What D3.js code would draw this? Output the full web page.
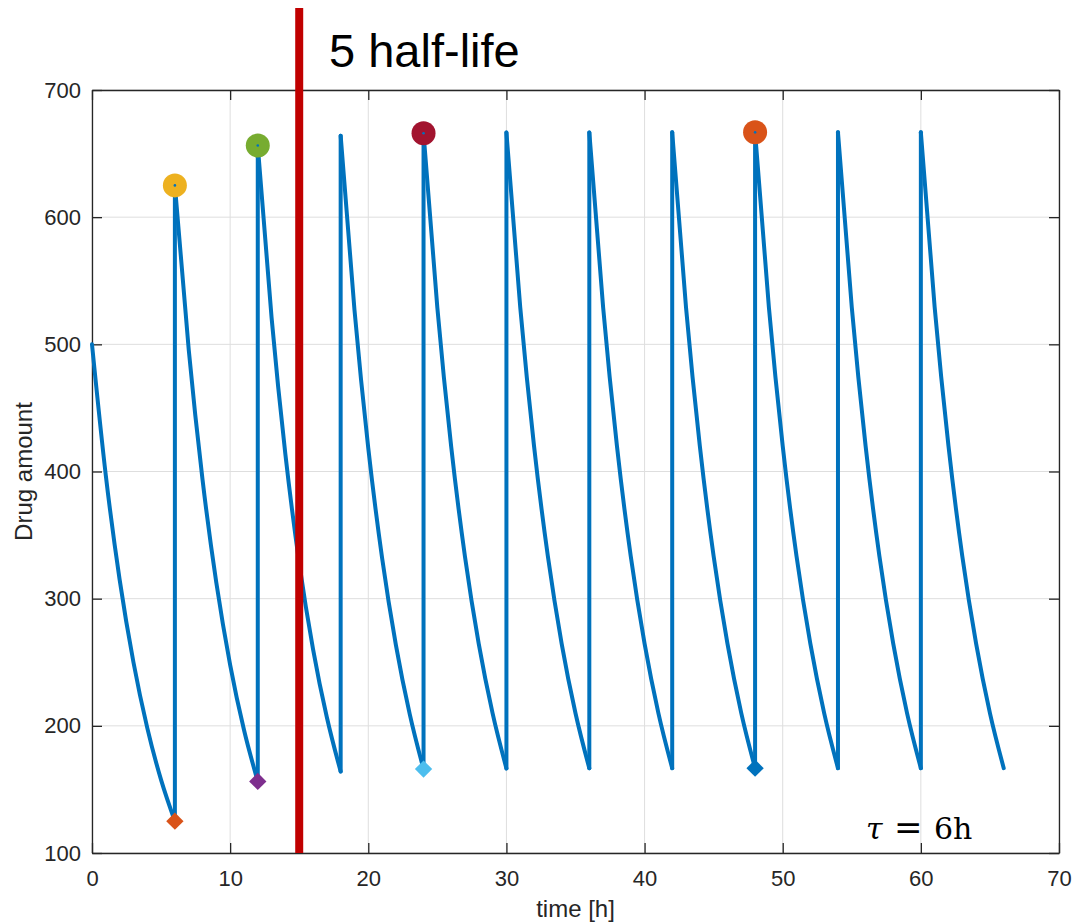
<!DOCTYPE html>
<html>
<head>
<meta charset="utf-8">
<script src="https://cdn.jsdelivr.net/npm/d3@7"></script>
<style>
  html, body { margin: 0; padding: 0; background: #ffffff; }
  svg { display: block; }
</style>
</head>
<body>
<script>
// Repeated dosing: drug amount every hour within each 6 h dosing interval
const doseTimes = [0, 6, 12, 18, 24, 30, 36, 42, 48, 54, 60];
const hourOffsets = [0, 1, 2, 3, 4, 5, 6];
const amountByInterval = [
  [500.0, 396.9, 315.0, 250.0, 198.4, 157.5, 125.0],
  [625.0, 496.1, 393.7, 312.5, 248.0, 196.9, 156.3],
  [656.3, 520.9, 413.4, 328.1, 260.4, 206.7, 164.1],
  [664.1, 527.1, 418.3, 332.0, 263.5, 209.2, 166.0],
  [666.0, 528.6, 419.6, 333.0, 264.3, 209.8, 166.5],
  [666.5, 529.0, 419.9, 333.3, 264.5, 209.9, 166.6],
  [666.6, 529.1, 420.0, 333.3, 264.6, 210.0, 166.7],
  [666.7, 529.1, 420.0, 333.3, 264.6, 210.0, 166.7],
  [666.7, 529.1, 420.0, 333.3, 264.6, 210.0, 166.7],
  [666.7, 529.1, 420.0, 333.3, 264.6, 210.0, 166.7],
  [666.7, 529.1, 420.0, 333.3, 264.6, 210.0, 166.7]
];

// Highlighted doses: peak right after dosing and trough right before it
const markTimes = [6, 12, 24, 48];
const peakValues = [625.0, 656.3, 666.0, 666.7];
const troughValues = [125.0, 156.3, 166.0, 166.7];

const halfLife = 3;          // h
const halfLivesShown = 5;    // vertical marker at 5 half-lives
const tau = 6;               // dosing interval, h

const xTicks = [0, 10, 20, 30, 40, 50, 60, 70];
const yTicks = [100, 200, 300, 400, 500, 600, 700];

// ---- styles ----
const peakColors = ["#EDB120", "#77AC30", "#A2142F", "#D95319"];
const troughColors = ["#D95319", "#7E2F8E", "#4DBEEE", "#0072BD"];
const lineColor = "#0072BD";
const axisColor = "#262626";
const gridColor = "#dedede";
const sans = "'Liberation Sans', Arial, Helvetica, sans-serif";

const W = 1073, H = 923;
const m = { left: 92, top: 90, right: 1059, bottom: 853 };

const svg = d3.select("body").append("svg")
  .attr("width", W).attr("height", H);

const x = d3.scaleLinear().domain([0, 70]).range([m.left, m.right]);
const y = d3.scaleLinear().domain([100, 700]).range([m.bottom, m.top]);

// grid
const grid = svg.append("g");
grid.selectAll("line.gx").data(xTicks).join("line")
  .attr("x1", d => x(d)).attr("x2", d => x(d))
  .attr("y1", m.top).attr("y2", m.bottom)
  .attr("stroke", gridColor).attr("stroke-width", 1);
grid.selectAll("line.gy").data(yTicks).join("line")
  .attr("y1", d => y(d)).attr("y2", d => y(d))
  .attr("x1", m.left).attr("x2", m.right)
  .attr("stroke", gridColor).attr("stroke-width", 1);

// axes (ticks pointing inward, on all four sides)
const tickLen = 10;
function styleAxis(g) {
  g.selectAll("path.domain").attr("stroke", axisColor).attr("stroke-width", 1.3);
  g.selectAll(".tick line").attr("stroke", axisColor).attr("stroke-width", 1.3);
  g.selectAll(".tick text").attr("fill", axisColor)
    .style("font-family", sans).style("font-size", "22px");
}
svg.append("g").attr("transform", `translate(0,${m.bottom})`)
  .call(d3.axisBottom(x).tickValues(xTicks).tickSizeInner(-tickLen).tickSizeOuter(0).tickPadding(17))
  .call(styleAxis);
svg.append("g").attr("transform", `translate(0,${m.top})`)
  .call(d3.axisTop(x).tickValues(xTicks).tickSizeInner(-tickLen).tickSizeOuter(0).tickFormat(""))
  .call(styleAxis);
svg.append("g").attr("transform", `translate(${m.left},0)`)
  .call(d3.axisLeft(y).tickValues(yTicks).tickSizeInner(-tickLen).tickSizeOuter(0).tickPadding(11))
  .call(styleAxis);
svg.append("g").attr("transform", `translate(${m.right},0)`)
  .call(d3.axisRight(y).tickValues(yTicks).tickSizeInner(-tickLen).tickSizeOuter(0).tickFormat(""))
  .call(styleAxis);

// drug amount curve: decay within each interval plus the jump at each dose
const plot = svg.append("g");
const decay = d3.line()
  .x(d => x(d[0])).y(d => y(d[1]))
  .curve(d3.curveMonotoneX);

doseTimes.forEach((t0, i) => {
  const vals = amountByInterval[i];
  if (i > 0) {
    const prev = amountByInterval[i - 1];
    plot.append("line")
      .attr("x1", x(t0)).attr("x2", x(t0))
      .attr("y1", y(prev[prev.length - 1])).attr("y2", y(vals[0]))
      .attr("stroke", lineColor).attr("stroke-width", 4)
      .attr("stroke-linecap", "round");
  }
  plot.append("path")
    .datum(hourOffsets.map((h, k) => [t0 + h, vals[k]]))
    .attr("d", decay)
    .attr("fill", "none")
    .attr("stroke", lineColor).attr("stroke-width", 4)
    .attr("stroke-linecap", "round").attr("stroke-linejoin", "round");
});

// trough markers (diamonds)
const diamond = d3.symbol().type(d3.symbolSquare).size(150);
plot.selectAll("path.trough").data(markTimes).join("path")
  .attr("class", "trough")
  .attr("d", diamond)
  .attr("transform", (d, i) => `translate(${x(d)},${y(troughValues[i])}) rotate(45)`)
  .attr("fill", (d, i) => troughColors[i]);

// peak markers (filled circles with a centre dot)
plot.selectAll("circle.peak").data(markTimes).join("circle")
  .attr("class", "peak")
  .attr("cx", d => x(d)).attr("cy", (d, i) => y(peakValues[i]))
  .attr("r", 12)
  .attr("fill", (d, i) => peakColors[i]);
plot.selectAll("circle.dot").data(markTimes).join("circle")
  .attr("class", "dot")
  .attr("cx", d => x(d)).attr("cy", (d, i) => y(peakValues[i]))
  .attr("r", 1.3)
  .attr("fill", lineColor);

// axis labels
svg.append("text")
  .attr("x", (m.left + m.right) / 2).attr("y", 917)
  .attr("text-anchor", "middle")
  .attr("fill", axisColor)
  .style("font-family", sans).style("font-size", "24px")
  .text("time [h]");
svg.append("text")
  .attr("transform", `translate(32,${(m.top + m.bottom) / 2}) rotate(-90)`)
  .attr("text-anchor", "middle")
  .attr("fill", axisColor)
  .style("font-family", sans).style("font-size", "24px")
  .text("Drug amount");

// dosing interval annotation
const tauText = svg.append("text")
  .attr("y", 839)
  .attr("fill", "#000")
  .style("font-family", "'DejaVu Serif', 'Liberation Serif', serif")
  .style("font-size", "30px");
tauText.append("tspan").attr("x", 866).style("font-style", "italic").text("τ");
tauText.append("tspan").attr("x", 894).style("font-size", "34px").text("=");
tauText.append("tspan").attr("x", 934).text(tau + "h");

// five half-lives marker
const tMark = halfLife * halfLivesShown;
svg.append("line")
  .attr("x1", x(tMark)).attr("x2", x(tMark))
  .attr("y1", 8).attr("y2", m.bottom)
  .attr("stroke", "#C00000").attr("stroke-width", 8);
svg.append("text")
  .attr("x", 329).attr("y", 67)
  .attr("fill", "#000")
  .style("font-family", sans).style("font-size", "47px")
  .text(halfLivesShown + " half-life");
</script>
</body>
</html>
